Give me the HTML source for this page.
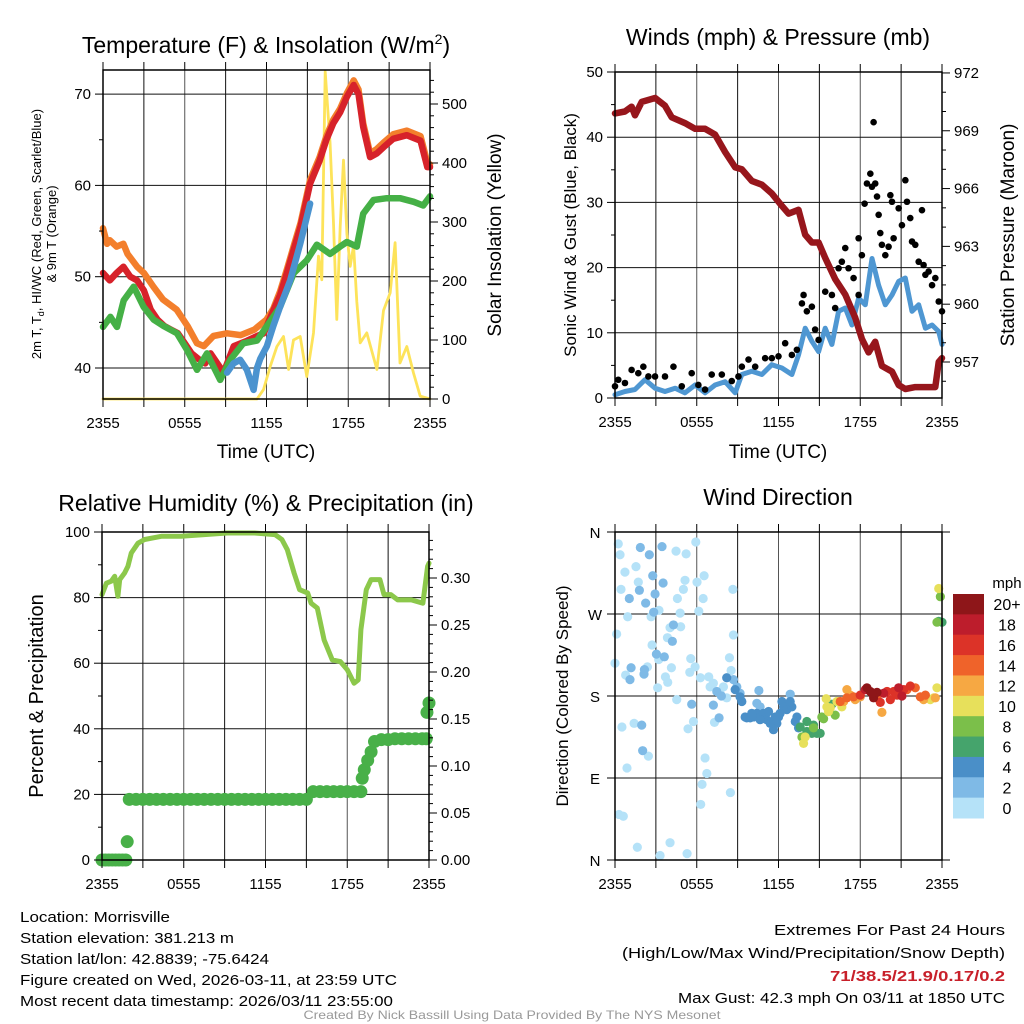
<!DOCTYPE html>
<html><head><meta charset="utf-8"><title>Morrisville Meteogram</title>
<style>
html,body{margin:0;padding:0;background:#fff;}
svg{display:block;font-family:"Liberation Sans",Arial,sans-serif;}
</style></head>
<body>
<svg id="chart" width="1024" height="1024" viewBox="0 0 1024 1024" xmlns="http://www.w3.org/2000/svg">
<rect width="1024" height="1024" fill="#fff"/>
<g id="layer"></g>
<!-- titles -->
<text x="266" y="53" font-size="23" text-anchor="middle">Temperature (F) &amp; Insolation (W/m<tspan dy="-9" font-size="14">2</tspan><tspan dy="9">)</tspan></text>
<text x="778" y="45" font-size="23" text-anchor="middle">Winds (mph) &amp; Pressure (mb)</text>
<text x="266" y="511" font-size="23" text-anchor="middle">Relative Humidity (%) &amp; Precipitation (in)</text>
<text x="778" y="505" font-size="23" text-anchor="middle">Wind Direction</text>
<!-- axis titles -->
<text x="266" y="458" font-size="19" text-anchor="middle">Time (UTC)</text>
<text x="778" y="458" font-size="19" text-anchor="middle">Time (UTC)</text>
<text transform="translate(41,234) rotate(-90)" font-size="13" text-anchor="middle">2m T, T<tspan dy="3" font-size="9">d</tspan><tspan dy="-3">, HI/WC (Red, Green, Scarlet/Blue)</tspan></text>
<text transform="translate(56,234) rotate(-90)" font-size="13" text-anchor="middle">&amp; 9m T (Orange)</text>
<text transform="translate(501,235) rotate(-90)" font-size="19" text-anchor="middle">Solar Insolation (Yellow)</text>
<text transform="translate(576,235) rotate(-90)" font-size="17" text-anchor="middle">Sonic Wind &amp; Gust (Blue, Black)</text>
<text transform="translate(1014,235) rotate(-90)" font-size="19" text-anchor="middle">Station Pressure (Maroon)</text>
<text transform="translate(43,696) rotate(-90)" font-size="20" text-anchor="middle">Percent &amp; Precipitation</text>
<text transform="translate(568,696) rotate(-90)" font-size="17" text-anchor="middle">Direction (Colored By Speed)</text>
<!-- footer -->
<g font-size="15">
<text x="20" y="922" textLength="150" lengthAdjust="spacingAndGlyphs">Location: Morrisville</text>
<text x="20" y="943" textLength="214" lengthAdjust="spacingAndGlyphs">Station elevation: 381.213 m</text>
<text x="20" y="964" textLength="249" lengthAdjust="spacingAndGlyphs">Station lat/lon: 42.8839; -75.6424</text>
<text x="20" y="985" textLength="377" lengthAdjust="spacingAndGlyphs">Figure created on Wed, 2026-03-11, at 23:59 UTC</text>
<text x="20" y="1006" textLength="373" lengthAdjust="spacingAndGlyphs">Most recent data timestamp: 2026/03/11 23:55:00</text>
</g>
<g font-size="15" text-anchor="end">
<text x="1005" y="935" textLength="231" lengthAdjust="spacingAndGlyphs">Extremes For Past 24 Hours</text>
<text x="1005" y="958" textLength="383" lengthAdjust="spacingAndGlyphs">(High/Low/Max Wind/Precipitation/Snow Depth)</text>
<text x="1005" y="981" fill="#c8202a" font-weight="bold" textLength="175" lengthAdjust="spacingAndGlyphs">71/38.5/21.9/0.17/0.2</text>
<text x="1005" y="1003" textLength="327" lengthAdjust="spacingAndGlyphs">Max Gust: 42.3 mph On 03/11 at 1850 UTC</text>
</g>
<text x="512" y="1019" font-size="12" fill="#999" text-anchor="middle" textLength="417" lengthAdjust="spacingAndGlyphs">Created By Nick Bassill Using Data Provided By The NYS Mesonet</text>
</svg>
<script>
// ---------- data ----------
const timeTickLabels = ["2355","0555","1155","1755","2355"];
const tempTickLabels = [40,50,60,70];
const solarTickLabels = [0,100,200,300,400,500];
const windTickLabels = [0,10,20,30,40,50];
const pressTickLabels = [957,960,963,966,969,972];
const rhTickLabels = [0,20,40,60,80,100];
const precipTickLabels = ["0.00","0.05","0.10","0.15","0.20","0.25","0.30"];
const dirTickLabels = ["N","E","S","W","N"];
const speedBinLabels = ["20+","18","16","14","12","10","8","6","4","2","0"];

const tempRedHours = [0,0.5,1,1.5,2,2.5,3,3.5,4,4.5,5,5.5,6,6.5,7,7.5,7.9,8.4,8.85,9.6,10.6,11.3,11.8,12.3,13,13.5,14,14.5,15.2,15.9,16.4,16.9,17.4,17.9,18.4,18.75,19.1,19.6,20.1,20.6,21.3,22.3,23.3,23.8,24];
const tempRed = [50.4,49.6,50.4,51.1,50,49.6,48.5,46.4,45.3,44.6,44.2,43.8,42.7,41.6,41,40.5,41.6,40.5,39.5,42.4,43,43.5,43.8,45.6,48,50.4,53,55.5,60.2,62.7,65,66.8,68,69.7,71,70,66.4,63.1,63.5,64.2,65.1,65.5,64.9,62,62];
const tempOrangeHours = [0,0.3,0.5,1,1.5,1.8,2.5,3,3.7,4.4,5.4,6.2,6.9,7.4,8.1,9.1,10.1,11.1,12,12.5,13,13.5,14,14.5,15.2,15.9,16.4,16.9,17.4,17.9,18.4,18.75,19.1,19.6,20.1,20.6,21.3,22.3,23.3,23.8,24];
const tempOrange = [55.3,53.6,54,53.3,53.6,52.5,51.1,50.4,48.9,47.5,46.4,44.6,42.7,42.4,43.5,43.8,43.6,44.2,45.3,46.5,48.4,50.8,53.4,55.9,60.6,63.1,65.4,67.2,68.4,70.1,71.5,70.5,66.8,63.5,64,64.7,65.6,66,65.4,62.5,62.3];
const dewHours = [0,0.54,1.03,1.52,2.25,2.98,3.72,4.45,5.43,6.16,6.9,7.63,8.6,9.34,10.3,11.3,12.03,13,14,14.96,15.7,16.67,17.4,17.9,18.63,19.1,19.85,20.83,21.8,22.8,23.5,24];
const dewGreen = [44.5,45.6,44.5,47.4,48.9,46.7,45.3,44.6,43.8,42,39.8,41.6,38.7,40.9,42.7,43,44.6,46.7,50.4,51.8,53.5,52.5,53.3,53.8,53.3,56.9,58.4,58.6,58.6,58.2,57.8,58.8];
const windChillHours = [9.1,9.58,10.07,10.56,11.05,11.3,11.54,12.03,12.5,13,13.74,14.47,15.2];
const windChillBlue = [39.5,40.5,40.9,39.8,37.6,40,41,42.4,44.6,46.7,49.6,53.6,58];
const solarHours = [0,11.3,11.78,12.27,12.76,13.25,13.62,13.98,14.47,14.96,15.45,15.82,16.06,16.31,16.67,16.92,17.16,17.41,17.65,17.9,18.14,18.39,18.63,18.88,19.36,20.1,20.59,21.08,21.44,21.8,22.3,22.79,23.28,24];
const solarYellow = [0,0,16,55,89,106,50,100,106,38,112,242,202,555,433,298,135,292,405,280,225,260,165,95,112,50,150,180,265,61,89,44,5,0];

const pressHours = [0,0.73,1.22,1.47,1.96,2.94,3.67,4.16,5.14,5.88,6.61,7.35,8.08,8.82,9.31,10.04,10.78,11.51,12.25,12.74,13.47,13.96,14.45,14.94,15.43,16.16,16.9,17.63,18.12,18.61,19.1,19.59,20.33,20.82,21.31,22.04,22.78,23.51,23.76,24];
const pressMaroon = [969.9,970,970.25,969.8,970.5,970.7,970.3,969.7,969.4,969.1,969.1,968.8,967.9,967.1,967.0,966.4,966.2,965.75,965.1,964.7,964.9,963.6,963.2,963.2,962.4,961.3,960.5,959.3,958.2,957.5,958.05,956.8,956.5,955.8,955.6,955.7,955.7,955.7,957.0,957.2];
const windHours = [0,0.73,1.47,2.2,2.94,3.67,4.41,5.14,5.88,6.61,7.35,8.08,8.82,9.31,10.04,10.78,11.51,12.25,12.98,13.47,13.96,14.45,14.94,15.43,15.92,16.41,16.9,17.39,17.88,18.37,18.86,19.35,19.84,20.33,20.82,21.31,21.8,22.29,22.78,23.27,23.76,24];
const windBlue = [0.5,1,1.3,2.8,1.5,1,1.5,0.8,2,0.8,2,2.5,0.8,3.6,4.1,3.6,5.1,4.6,3.6,6.6,10.7,8.7,7.1,10.7,8.2,13.3,13.8,11.2,15.3,14.3,21.4,17.3,14.3,15.8,17.9,18.4,13.3,14.3,10.7,11.2,10.2,8.2];
const gustHours = [0,0.24,0.73,1.22,1.71,2.08,2.45,2.94,3.67,4.29,4.9,5.63,6.12,6.61,7.1,7.84,8.57,9.06,9.31,9.8,10.29,11.02,11.51,12.0,12.49,12.98,13.35,13.72,13.84,14.08,14.45,14.69,14.94,15.43,15.92,16.16,16.41,16.65,16.9,17.14,17.51,17.88,17.88,18.12,18.32,18.49,18.74,18.86,18.98,19.1,19.23,19.35,19.47,19.59,19.84,20.08,20.21,20.33,20.45,20.82,21.06,21.31,21.43,21.67,21.8,22.04,22.29,22.53,22.65,22.78,23.02,23.27,23.51,23.76,24];
const gustBlack = [1.8,2.8,2.3,4.3,3.8,4.8,3.3,3.3,3.3,4.8,1.8,3.8,2.0,1.3,3.6,3.6,2.6,3.3,4.8,5.9,4.8,6.1,6.1,6.4,8.4,6.6,7.4,14.5,15.8,13.3,14.0,10.5,8.9,16.3,15.8,13.8,19.9,20.9,23.0,19.9,18.4,15.8,24.5,21.9,29.8,32.9,34.4,32.4,42.3,32.9,30.9,28.1,25.3,23.5,21.9,23.2,31.1,30.1,24.5,29.1,26.5,33.4,30.1,27.6,24.0,23.5,20.9,28.8,20.4,18.9,19.4,17.3,18.4,14.8,13.3];

const rhHours = [0,0.32,0.68,0.93,1.17,1.3,1.66,1.9,2.15,2.64,3.13,4.35,5.8,7.5,9.2,11.2,12.7,13.2,13.6,14.1,14.5,15.1,15.35,15.8,16.3,16.9,17.5,18,18.5,18.8,19,19.4,19.75,20.4,20.7,21.2,21.7,22.7,23.55,23.9,24];
const rhGreen = [80.9,84.4,85,86.5,80.4,85.5,87.5,89.5,93.6,96.6,97.7,98.7,98.7,99.2,99.7,99.7,99.2,97.7,94.6,87.5,82.4,81.4,78.3,76.8,67.1,61,60.5,58,53.9,54.9,70.2,82.4,85.5,85.5,80.9,80.9,79.3,79.3,78.3,89.5,90.5];
const precipHours = [0,0.25,0.5,0.75,1,1.25,1.5,1.75,1.85,2,2.5,3,3.5,4,4.5,5,5.5,6,6.5,7,7.5,8,8.5,9,9.5,10,10.5,11,11.5,12,12.5,13,13.5,14,14.5,15,15.5,16,16.5,17,17.5,18,18.5,19,19.1,19.25,19.5,19.75,20,20.5,21,21.5,22,22.5,23,23.5,23.8,23.85,24];
const precipIn = [0,0,0,0,0,0,0,0,0.0195,0.0645,0.0645,0.0645,0.0645,0.0645,0.0645,0.0645,0.0645,0.0645,0.0645,0.0645,0.0645,0.0645,0.0645,0.0645,0.0645,0.0645,0.0645,0.0645,0.0645,0.0645,0.0645,0.0645,0.0645,0.0645,0.0645,0.0645,0.0727,0.0727,0.0727,0.0727,0.0727,0.0727,0.0727,0.0727,0.087,0.096,0.106,0.115,0.126,0.128,0.128,0.129,0.129,0.129,0.129,0.129,0.129,0.157,0.167];

const dirHours = [0.24,0.37,0.73,1.54,1.71,0.44,0.93,0.12,0,0.78,0.51,1.4,0.88,0.29,0.61,1.64,2.45,2.38,2.65,2.72,3.23,3.31,4.04,4.48,5.22,5.14,5.02,4.58,4.78,4.04,4.82,3.85,3.21,3.7,3.87,4.14,3.13,4.53,5.56,5.88,5.49,5.36,5.76,5.29,5.93,6.02,6.54,6.47,6.15,6.27,6.61,6.74,6.39,6.29,8.4,8.52,8.65,8.69,8.47,7.3,6.88,6.98,7.22,7.96,7.71,8.2,
1.86,2.52,3.45,2.77,3.53,1.79,1.05,2.25,2.94,2.84,4.29,4.21,3.04,3.62,1.18,2.16,2.13,1.1,1.96,2.03,5.63,7.47,7.81,7.22,7.64,10.56,8.69,8.94,9.18,10.65,10.41,12.86,
8.2,8.82,9.31,9.55,9.92,10.41,10.9,11.14,11.27,11.63,11.88,12.0,12.25,12.37,12.61,12.98,12.86,13.35,13.23,13.47,9.67,10.16,10.65,11.39,11.76,12.12,9.18,10.04,
13.59,14.08,14.57,14.82,15.06,14.45,15.92,23.76,24,14.08,
13.72,15.18,15.31,16.16,14.57,23.88,23.63,
13.84,13.96,15.55,15.67,15.5,16.29,16.65,15.8,23.76,23.63,23.14,23.39,
17.02,17.63,19.59,22.65,23.51,16.78,17.27,18.0,
16.53,17.02,17.51,19.23,22.04,22.41,22.78,18.98,21.43,
19.47,20.21,20.45,20.94,21.67,21.19,20.7,18.0,19.96,
18.37,18.98,20.82,21.06,19.72,
18.49,18.74,18.98,19.23,18.86];
const dirDegrees = [347,335,316,322,305,297,267,248,216,203,146,150,101,50,48,14,114,212,267,236,274,5,19,339,336,307,297,287,271,255,256,244,220,201,195,211,189,176,221,212,206,144,152,7,349,305,312,287,273,200,112,95,83,61,222,208,297,247,74,151,201,190,194,190,183,178,
343,335,344,312,304,296,287,282,292,272,258,240,226,223,211,209,204,198,148,120,171,185,180,170,156,186,198,190,183,168,172,182,
200,187,174,157,156,161,161,154,163,143,150,157,174,168,165,168,174,157,152,145,156,157,154,150,157,161,179,161,
146,152,148,139,139,139,171,262,261,141,
135,157,155,159,145,289,261,
128,135,168,163,177,174,168,167,298,189,176,178,
187,176,162,176,178,174,181,179,
174,178,179,178,189,179,181,183,187,
173,176,185,183,191,187,181,181,185,
187,183,189,180,183,
189,185,178,184,183];
const dirSpeeds = [1,1,1,1,1,1,1,1,1,1,1,1,1,1,1,1,1,1,1,1,1,1,1,1,1,1,1,1,1,1,1,1,1,1,1,1,1,1,1,1,1,1,1,1,1,1,1,1,1,1,1,1,1,1,1,1,1,1,1,1,1,1,1,1,1,1,
3,3,3,3,3,3,3,3,3,3,3,3,3,3,3,3,3,3,3,3,3,3,3,3,3,3,3,3,3,3,3,3,
5,5,5,5,5,5,5,5,5,5,5,5,5,5,5,5,5,5,5,5,5,5,5,5,5,5,5,5,
7,7,7,7,7,7,7,7,7,7,
9,9,9,9,9,9,9,
11,11,11,11,11,11,11,11,11,11,11,11,
13,13,13,13,13,13,13,13,
15,15,15,15,15,15,15,15,15,
17,17,17,17,17,17,17,17,17,
19,19,19,19,19,
21,21,21,21,21];

// ---------- drawing ----------
const NS="http://www.w3.org/2000/svg";
const layer=document.getElementById('layer');
function mk(tag,attrs,parent){const e=document.createElementNS(NS,tag);for(const k in attrs)e.setAttribute(k,attrs[k]);(parent||layer).appendChild(e);return e;}
function txt(x,y,s,size,anchor,parent){const t=mk('text',{x:x,y:y,'font-size':size,'text-anchor':anchor},parent);t.textContent=s;return t;}
const binColors=["#b5e2f8","#7fbae6","#4a8fc8","#45a46c","#7bbf4a","#e7e05b","#f6a843","#ef632a","#dc3328","#bd1d2c","#8e1619"];
function speedColor(v){let i=Math.floor(v/2);if(i>10)i=10;if(i<0)i=0;return binColors[i];}

function panel(name,x0,x1,y0,y1){
  const g=mk('g',{});
  
  
  const xs=h=>x0+(x1-x0)*h/24;
  return {g,x0,x1,y0,y1,xs};
}
function grid(p,hlines){
  for(let h=3;h<24;h+=3){const l=mk('line',{x1:p.xs(h),x2:p.xs(h),y1:p.y0,y2:p.y1,stroke:(h%6==0)?'#555':'#111','stroke-width':1},p.g);
    }
  hlines.forEach(y=>{const l=mk('line',{x1:p.x0,x2:p.x1,y1:y,y2:y,stroke:'#111','stroke-width':1},p.g);
    });
}
function frame(p){
  const r=mk('rect',{x:p.x0,y:p.y0,width:p.x1-p.x0,height:p.y1-p.y0,fill:'none',stroke:'#000','stroke-width':1.5},p.g);
  
  for(let h=0;h<=24;h+=3){
    mk('line',{x1:p.xs(h),x2:p.xs(h),y1:p.y1,y2:p.y1+8,stroke:'#000','stroke-width':1},p.g);
    mk('line',{x1:p.xs(h),x2:p.xs(h),y1:p.y0,y2:p.y0-8,stroke:'#000','stroke-width':1},p.g);
  }
  timeTickLabels.forEach((s,i)=>{const t=txt(p.xs(i*6),p.y1+29,s,15,'middle',p.g);
    });
}
function leftTicks(p,vals,ys,labels,minor){
  vals.forEach((v,i)=>{const y=ys(v);mk('line',{x1:p.x0-8,x2:p.x0,y1:y,y2:y,stroke:'#000'},p.g);
    const t=txt(p.x0-12,y+5,labels[i],15,'end',p.g);});
  (minor||[]).forEach(v=>{const y=ys(v);mk('line',{x1:p.x0-4,x2:p.x0,y1:y,y2:y,stroke:'#000'},p.g);});
}
function rightTicks(p,vals,ys,labels,minor){
  vals.forEach((v,i)=>{const y=ys(v);mk('line',{x1:p.x1,x2:p.x1+8,y1:y,y2:y,stroke:'#000'},p.g);
    const t=txt(p.x1+12,y+5,labels[i],15,'start',p.g);});
  (minor||[]).forEach(v=>{const y=ys(v);mk('line',{x1:p.x1,x2:p.x1+4,y1:y,y2:y,stroke:'#000'},p.g);});
}
function line(p,hours,vals,ys,color,w,name){
  let d='';let pen=false;
  hours.forEach((h,i)=>{const v=vals[i];if(v===null){pen=false;return;}
    let y=ys(v);if(y<p.y0)y=p.y0;d+=(pen?'L':'M')+p.xs(h).toFixed(1)+' '+y.toFixed(1);pen=true;});
  const e=mk('path',{d:d,fill:'none',stroke:color,'stroke-width':w,'stroke-linejoin':'round','stroke-linecap':'round'},p.g);
  
  
  return e;
}
function seq(a,b,s){const r=[];for(let v=a;v<=b+1e-9;v+=s)r.push(+v.toFixed(4));return r;}

// Panel 1: temperature
const p1=panel('temperature-panel',103,430,70,399);
const yT=v=>368-(v-40)*9.13, yS=v=>399-v*0.59;
grid(p1,tempTickLabels.map(yT));
line(p1,solarHours,solarYellow,yS,'#fde35a',2.8,'solar-insolation-line');
line(p1,tempOrangeHours,tempOrange,yT,'#f37f2c',6.5,'temp-9m-line');
line(p1,tempRedHours,tempRed,yT,'#d7222a',6.5,'temp-2m-line');
line(p1,dewHours,dewGreen,yT,'#45b046',6.5,'dewpoint-line');
line(p1,windChillHours,windChillBlue,yT,'#4b93cf',6.5,'wind-chill-line');
frame(p1);
leftTicks(p1,tempTickLabels,yT,tempTickLabels,[45,55,65]);
rightTicks(p1,solarTickLabels,yS,solarTickLabels,seq(20,540,20).filter(v=>v%100));

// Panel 2: winds
const p2=panel('winds-panel',615,942,72,398);
const yW=v=>398-v*6.52, yP=v=>362-(v-957)*19.27;
grid(p2,[10,20,30,40].map(yW));
line(p2,windHours,windBlue,yW,'#4f97d2',5,'sonic-wind-line');
gustHours.forEach((h,i)=>{const c=mk('circle',{cx:p2.xs(h),cy:yW(gustBlack[i]),r:3.3,fill:'#000'},p2.g);
  });
line(p2,pressHours,pressMaroon,yP,'#97161c',6.5,'pressure-line');
frame(p2);
leftTicks(p2,windTickLabels,yW,windTickLabels,[5,15,25,35,45]);
rightTicks(p2,pressTickLabels,yP,pressTickLabels,seq(956,971,1).filter(v=>v%3));

// Panel 3: humidity
const p3=panel('humidity-panel',102,429,532,860);
const yR=v=>860-v*3.28, yPr=v=>860-v*940;
grid(p3,[20,40,60,80].map(yR));
line(p3,rhHours,rhGreen,yR,'#8cc84b',5,'relative-humidity-line');
precipHours.forEach((h,i)=>{const c=mk('circle',{cx:p3.xs(h),cy:yPr(precipIn[i]),r:6.5,fill:'#48b048'},p3.g);
  });
frame(p3);
leftTicks(p3,rhTickLabels,yR,rhTickLabels,[10,30,50,70,90]);
rightTicks(p3,[0,0.05,0.1,0.15,0.2,0.25,0.3],yPr,precipTickLabels,seq(0.01,0.34,0.01).filter(v=>Math.round(v*100)%5));

// Panel 4: wind direction
const p4=panel('wind-direction-panel',615,942,532,860);
const yD=v=>860-v*328/360;
grid(p4,[90,180,270].map(yD));
dirHours.forEach((h,i)=>{const c=mk('circle',{cx:p4.xs(h),cy:yD(dirDegrees[i]),r:4.6,fill:speedColor(dirSpeeds[i])},p4.g);
  });
frame(p4);
[0,90,180,270,360].forEach((v,i)=>{const y=yD(v);mk('line',{x1:p4.x0-8,x2:p4.x0,y1:y,y2:y,stroke:'#000'},p4.g);
  const t=txt(p4.x0-20,y+6,dirTickLabels[i],15,'middle',p4.g);});
mk('line',{x1:p4.x1,x2:p4.x1+8,y1:p4.y0,y2:p4.y0,stroke:'#000'},p4.g);
mk('line',{x1:p4.x1,x2:p4.x1+8,y1:p4.y1,y2:p4.y1,stroke:'#000'},p4.g);

// Colorbar
const cb=mk('g',{});


const cbTop=594,cbH=224/11;
speedBinLabels.forEach((s,i)=>{
  const r=mk('rect',{x:953,y:cbTop+i*cbH,width:31,height:cbH+0.5,fill:binColors[10-i]},cb);
  
  const t=txt(1007,cbTop+i*cbH+cbH/2+6,s,16,'middle',cb);
});
const mt=txt(1007,588,'mph',15,'middle',cb);


</script>
</body></html>
